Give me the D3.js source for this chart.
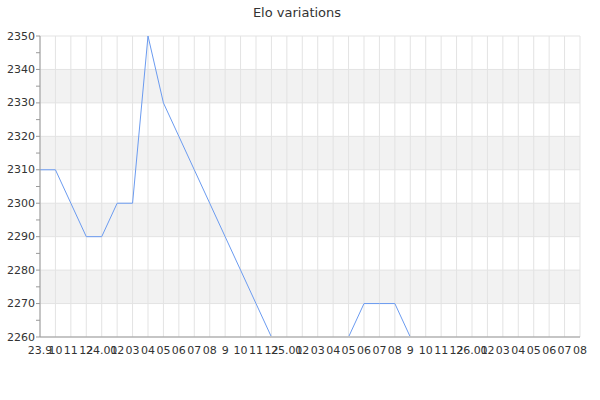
<!DOCTYPE html>
<html>
<head>
<meta charset="utf-8">
<script src="https://cdn.jsdelivr.net/npm/d3@7"></script>
<style>
  body { margin: 0; background: #fff; }
  text { font-family: "DejaVu Sans", sans-serif; }
</style>
</head>
<body>
<div id="chart"></div>
<script>
// month labels, as printed under the x axis
const months = ['23.9', '10', '11', '12',
  '24.01', '02', '03', '04', '05', '06', '07', '08', '9', '10', '11', '12',
  '25.01', '02', '03', '04', '05', '06', '07', '08', '9', '10', '11', '12',
  '26.01', '02', '03', '04', '05', '06', '07', '08'];

// elo, one per month
const elo = [2310, 2310, 2300, 2290,
  2290, 2300, 2300, 2350, 2330, 2320, 2310, 2300, 2290, 2280, 2270, 2260,
  2260, 2260, 2260, 2260, 2260, 2270, 2270, 2270, 2260, 2260, 2260, 2260,
  2260, 2260, 2260, 2260, 2260, 2260, 2260, 2260];

const yTicks = [2260, 2270, 2280, 2290, 2300, 2310, 2320, 2330, 2340, 2350];

const width = 600, height = 400;
const margin = { top: 36, right: 20, bottom: 63, left: 40 };
const innerW = width - margin.left - margin.right;
const innerH = height - margin.top - margin.bottom;

const data = months.map((m, i) => ({ i: i, label: m, value: elo[i] }));

const svg = d3.select('#chart').append('svg')
  .attr('width', width)
  .attr('height', height);

svg.append('text')
  .attr('x', width / 2 - 3)
  .attr('y', 17)
  .attr('text-anchor', 'middle')
  .attr('fill', '#333')
  .style('font-size', '13px')
  .text('Elo variations');

// the line never shows on the floor of the plot, so clip just above it
svg.append('defs').append('clipPath')
  .attr('id', 'plot-clip')
  .append('rect')
  .attr('x', -1)
  .attr('y', -2)
  .attr('width', innerW + 2)
  .attr('height', innerH + 1);

const g = svg.append('g')
  .attr('transform', `translate(${margin.left},${margin.top})`);

const x = d3.scaleLinear()
  .domain([0, months.length - 1])
  .range([0, innerW]);

const y = d3.scaleLinear()
  .domain([d3.min(yTicks), d3.max(yTicks)])
  .range([innerH, 0]);

// alternating bands
const bands = yTicks.slice(0, -1).filter((t, k) => k % 2 === 1);
g.selectAll('rect.band')
  .data(bands)
  .enter()
  .append('rect')
  .attr('class', 'band')
  .attr('x', 0)
  .attr('width', innerW)
  .attr('y', d => y(d + 10))
  .attr('height', d => y(d) - y(d + 10))
  .attr('fill', '#f2f2f2');

// vertical grid
g.selectAll('line.vgrid')
  .data(data)
  .enter()
  .append('line')
  .attr('class', 'vgrid')
  .attr('x1', d => x(d.i))
  .attr('x2', d => x(d.i))
  .attr('y1', 0)
  .attr('y2', innerH)
  .attr('stroke', '#e3e3e3');

// horizontal grid
g.selectAll('line.hgrid')
  .data(yTicks)
  .enter()
  .append('line')
  .attr('class', 'hgrid')
  .attr('x1', 0)
  .attr('x2', innerW)
  .attr('y1', d => y(d))
  .attr('y2', d => y(d))
  .attr('stroke', '#e3e3e3');

// the elo line
const line = d3.line()
  .x(d => x(d.i))
  .y(d => y(d.value));

g.append('path')
  .datum(data)
  .attr('d', line)
  .attr('clip-path', 'url(#plot-clip)')
  .attr('fill', 'none')
  .attr('stroke', '#6b9bf0')
  .attr('stroke-width', 1);

// y axis, with minor ticks at the fives
const yAxis = g.append('g')
  .call(d3.axisLeft(y).tickValues(yTicks).tickSize(4).tickSizeOuter(0).offset(0).tickFormat(d3.format('d')));
yAxis.append('g')
  .selectAll('line')
  .data(yTicks.slice(0, -1).map(t => t + 5))
  .enter()
  .append('line')
  .attr('x1', -4)
  .attr('x2', 0)
  .attr('y1', d => y(d))
  .attr('y2', d => y(d))
  .attr('stroke', '#999');
yAxis.select('.domain').attr('stroke', '#999');
yAxis.selectAll('.tick line').attr('stroke', '#999');
yAxis.selectAll('text')
  .attr('fill', '#333')
  .attr('x', -5)
  .style('font-size', '11px')
  .style('font-family', '"DejaVu Sans", sans-serif');

// x axis
const xAxis = g.append('g')
  .attr('transform', `translate(0,${innerH})`)
  .call(d3.axisBottom(x)
    .tickValues(data.map(d => d.i))
    .tickFormat(i => months[i])
    .tickSize(0)
    .tickSizeOuter(0)
    .offset(0)
    .tickPadding(9));
xAxis.select('.domain').attr('stroke', '#999');
xAxis.selectAll('text')
  .attr('fill', '#333')
  .style('font-size', '11px')
  .style('font-family', '"DejaVu Sans", sans-serif');
</script>
</body>
</html>
